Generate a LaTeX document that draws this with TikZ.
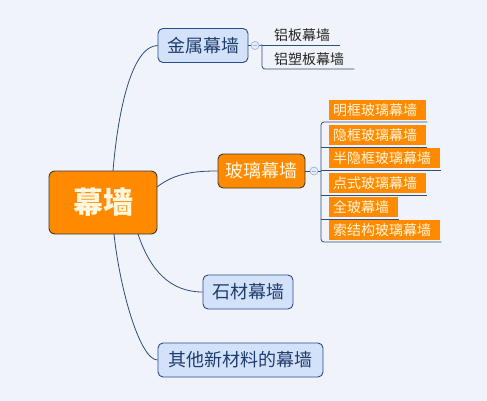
\documentclass[tikz,border=0pt]{standalone}
\usepackage{fontspec}
\newfontfamily\cjk{Noto Sans CJK SC}
\usetikzlibrary{calc}
\definecolor{bgc}{HTML}{F0F3F9}
\definecolor{orng}{HTML}{FF8A00}
\definecolor{bluefill}{HTML}{D3E2F8}
\definecolor{blueedge}{HTML}{244C8E}
\definecolor{bluetext}{HTML}{1E3C6E}
\definecolor{linec}{HTML}{2E4D7B}
\definecolor{cream}{HTML}{FFF6DE}
\definecolor{darkedge}{HTML}{3A3A3A}
\definecolor{circedge}{HTML}{9DB3DC}
\tikzset{
  mainbox/.style={draw=darkedge, line width=0.9pt, fill=orng, rounded corners=6pt,
    text=cream, minimum width=108pt, minimum height=63pt, inner sep=0pt,
    font=\cjk\bfseries\fontsize{30pt}{32pt}\selectfont},
  bluebox/.style={draw=blueedge, line width=0.9pt, fill=bluefill, rounded corners=5pt,
    text=bluetext, minimum height=34pt, inner sep=0pt,
    font=\cjk\fontsize{18pt}{20pt}\selectfont},
  orangebox/.style={draw=darkedge, line width=0.9pt, fill=orng, rounded corners=5pt,
    text=cream, minimum height=34pt, inner sep=0pt,
    font=\cjk\fontsize{18pt}{20pt}\selectfont},
  subtext/.style={anchor=south west, inner xsep=0pt, inner ysep=3.5pt, text=black!85,
    font=\cjk\fontsize{14pt}{16pt}\selectfont,
    execute at begin node={\hspace*{12pt}}, execute at end node={\hspace*{10pt}}},
  leafbox/.style={anchor=south west, fill=orng, text=cream, inner xsep=0pt, inner ysep=0pt,
    minimum height=20pt, font=\cjk\fontsize{14pt}{16pt}\selectfont,
    execute at begin node={\hspace*{4pt}}, execute at end node={\hspace*{9pt}}},
  conn/.style={draw=linec, line width=0.8pt},
  ulin/.style={draw=linec, line width=0.8pt},
  collapse/.style={circle, draw=circedge, fill=bluefill!60, line width=0.7pt,
    minimum size=8pt, inner sep=0pt},
}
\begin{document}
\begin{tikzpicture}[x=1pt,y=-1pt]
\fill[bgc] (0,0) rectangle (487,401);
\useasboundingbox (0,0) rectangle (487,401);

% main nodes
\node[mainbox] (main) at (103,202.5) {幕墙};
\node[bluebox, minimum width=90pt] (jin) at (203,45.5) {金属幕墙};
\node[orangebox, minimum width=87pt] (boli) at (261.5,171) {玻璃幕墙};
\node[bluebox, minimum width=90pt] (shi) at (248,292) {石材幕墙};
\node[bluebox, minimum width=165pt] (qita) at (240.5,360) {其他新材料的幕墙};

% curved connectors
\coordinate (m1) at (113,171);
\coordinate (m2) at (157,187);
\coordinate (m3) at (138,234);
\coordinate (m4) at (114,234);
\draw[conn] (m1) .. controls (118,110) and (132,46) .. (jin.west);
\draw[conn] (m2) .. controls (175,173) and (195,171) .. (boli.west);
\draw[conn] (m3) .. controls (150,270) and (170,292) .. (shi.west);
\draw[conn] (m4) .. controls (120,290) and (140,360) .. (qita.west);

% metal curtain wall children
\node[subtext] (a1) at (262,45) {铝板幕墙};
\node[subtext] (a2) at (262,69) {铝塑板幕墙};
\node[collapse] (c1) at (255,45.5) {};
\draw[conn] (jin.east) -- (c1.west);
\draw[ulin] (c1.east) -- (a1.south west);
\draw[ulin] (a1.south west) -- (a1.south east);
\draw[ulin, rounded corners=3pt] (a1.south west) |- (a2.south east);
\draw[circedge, line width=0.7pt] ($(c1.center)+(-2.2,0)$) -- ($(c1.center)+(2.2,0)$);

% glass curtain wall children
\node[leafbox] (b1) at (329,120) {明框玻璃幕墙};
\node[leafbox] (b2) at (329,145) {隐框玻璃幕墙};
\node[leafbox] (b3) at (329,168) {半隐框玻璃幕墙};
\node[leafbox] (b4) at (329,193) {点式玻璃幕墙};
\node[leafbox] (b5) at (329,217) {全玻幕墙};
\node[leafbox] (b6) at (329,240) {索结构玻璃幕墙};
\node[collapse] (c2) at (314,171) {};
\draw[conn] (boli.east) -- (c2.west);
\draw[circedge, line width=0.7pt] ($(c2.center)+(-2.2,0)$) -- ($(c2.center)+(2.2,0)$);
\coordinate (v1) at (321,122);
\coordinate (v2) at (321,147);
\coordinate (v3) at (321,170);
\coordinate (v4) at (321,195);
\coordinate (v5) at (321,219);
\coordinate (v6) at (321,242);
\coordinate (e1) at ($(b1.south east)+(1,2)$);
\coordinate (e2) at ($(b2.south east)+(1,2)$);
\coordinate (e3) at ($(b3.south east)+(1,2)$);
\coordinate (e4) at ($(b4.south east)+(1,2)$);
\coordinate (e5) at ($(b5.south east)+(1,2)$);
\coordinate (e6) at ($(b6.south east)+(1,2)$);
\draw[ulin, rounded corners=3pt] (e1) -- (v1) -- (v6) -- (e6);
\draw[ulin] (v2) -- (e2);
\draw[ulin] (v3) -- (e3);
\draw[ulin] (v4) -- (e4);
\draw[ulin] (v5) -- (e5);
\draw[ulin] (c2.east) -- (v3 |- c2.east);
\end{tikzpicture}
\end{document}
